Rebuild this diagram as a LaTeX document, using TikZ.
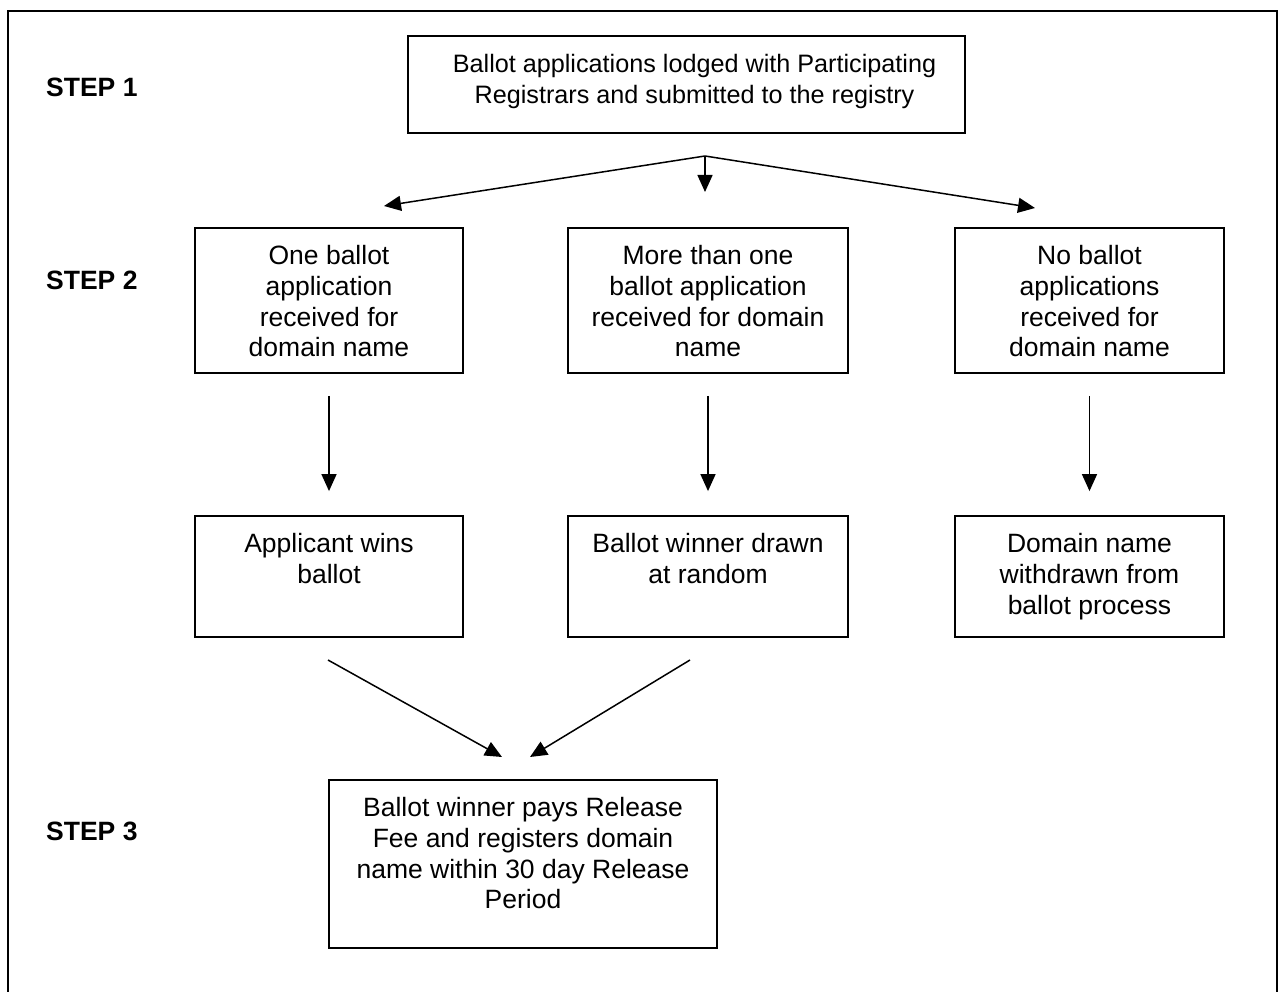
\documentclass[tikz,border=0pt]{standalone}
\usepackage{fontspec}
\setmainfont{Liberation Sans}
\usetikzlibrary{arrows.meta}
\newcommand{\bxt}[3]{\parbox[c][#2][t]{#1}{\centering\vspace*{15.5pt}\strut #3}}
\tikzset{
  box/.style={draw, line width=1.8pt, inner sep=0pt},
  arr/.style={line width=1.5pt, -{Triangle[length=17pt,width=15pt]}},
  steplbl/.style={anchor=base west, inner sep=0pt, font=\fontsize{26.5}{30.6}\selectfont\bfseries},
}
\begin{document}
\begin{tikzpicture}[x=1pt, y=-1pt, font=\fontsize{26.5}{30.6}\selectfont]
\useasboundingbox (0,0) rectangle (1282,992);
\draw[line width=2pt] (8,992) -- (8,11) -- (1277,11) -- (1277,992);

\node[steplbl] (s1) at (46,97) {STEP 1};
\node[steplbl] (s2) at (46,290) {STEP 2};
\node[steplbl] (s3) at (46,840) {STEP 3};

\node[box] (top) at (686.5,84.5) {\parbox[c][97pt][t]{557pt}{\centering\fontsize{25.2}{31}\selectfont\vspace*{15pt}\strut\hspace*{16pt}Ballot applications lodged with Participating\\\hspace*{16pt}Registrars and submitted to the registry}};

\node[box] (r2a) at (329,300.5) {\bxt{268pt}{145pt}{One ballot\\application\\received for\\domain name}};
\node[box] (r2b) at (708,300.5) {\bxt{280pt}{145pt}{More than one\\ballot application\\received for domain\\name}};
\node[box] (r2c) at (1089.5,300.5) {\bxt{269pt}{145pt}{No ballot\\applications\\received for\\domain name}};

\node[box] (r3a) at (329,576.5) {\bxt{268pt}{121pt}{Applicant wins\\ballot}};
\node[box] (r3b) at (708,576.5) {\bxt{280pt}{121pt}{Ballot winner drawn\\at random}};
\node[box] (r3c) at (1089.5,576.5) {\bxt{269pt}{121pt}{Domain name\\withdrawn from\\ballot process}};

\node[box] (fin) at (523,864) {\bxt{388pt}{168pt}{Ballot winner pays Release\\Fee and registers domain\\name within 30 day Release\\Period}};

\coordinate (split) at (705,156);
\coordinate (tipL) at (384,206);
\coordinate (tipM) at (705,192);
\coordinate (tipR) at (1035,208);
\draw[arr] (split) -- (tipL);
\draw[arr] (split) -- (tipM);
\draw[arr] (split) -- (tipR);

\draw[arr, shorten <=22pt, shorten >=24pt] (r2a) -- (r3a);
\draw[arr, shorten <=22pt, shorten >=24pt] (r2b) -- (r3b);
\draw[arr, shorten <=22pt, shorten >=24pt] (r2c) -- (r3c);

\coordinate (dA) at (328,660);
\coordinate (dAt) at (502,757);
\coordinate (dB) at (690,660);
\coordinate (dBt) at (530,757);
\draw[arr] (dA) -- (dAt);
\draw[arr] (dB) -- (dBt);
\end{tikzpicture}
\end{document}
